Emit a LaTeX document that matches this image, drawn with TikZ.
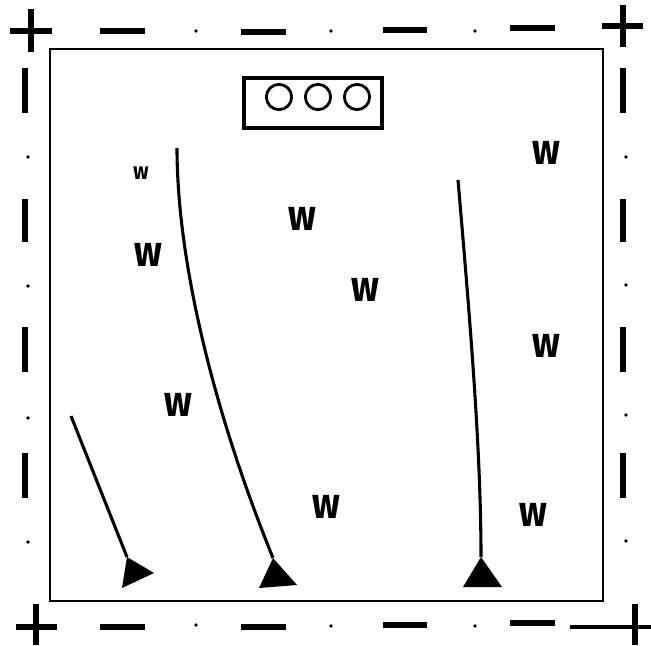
\documentclass[tikz,border=0pt]{standalone}
\usepackage{fontspec}
\usepackage{tikz}
\newfontfamily\wfont{Fira Sans}
\tikzset{
  markbar/.style={line width=3.6pt},
  dotmark/.style={fill=black},
  runline/.style={line width=2.2pt},
  wlabel/.style={inner sep=0pt,font=\wfont\bfseries\fontsize{31}{31}\selectfont,xscale=0.85},
  lightbox/.style={draw,line width=2.8pt,minimum width=98pt,minimum height=35.6pt,inner sep=0pt},
  lamp/.style={draw,circle,line width=2pt,minimum size=18pt,inner sep=0pt}
}

\begin{document}
\begin{tikzpicture}[x=0.025cm,y=-0.025cm]
\path[use as bounding box] (0,0) rectangle (651,645);
\fill[white] (0,0) rectangle (651,645);
% pitch
\draw[line width=2.1pt] (50,49) rectangle (603,601);
% corners
\draw[markbar] (10,31) -- (52,31) (31,9) -- (31,52);
\draw[markbar] (602,26) -- (643,26) (623,5) -- (623,47);
\draw[markbar] (16,627) -- (57,627) (36,604) -- (36,645);
\draw[markbar] (635,604) -- (635,645);
\draw[line width=3pt] (570,627) -- (651,627);
% top edge
\draw[markbar] (100,31) -- (145,31);
\draw[markbar] (241,32) -- (286,32);
\draw[markbar] (383,30) -- (427,30);
\draw[markbar] (510,28) -- (555,28);
% bottom edge
\draw[markbar] (100,627) -- (145,627);
\draw[markbar] (241,627) -- (286,627);
\draw[markbar] (383,625) -- (427,625);
\draw[markbar] (510,623) -- (555,623);
% left and right edges
\foreach \ya/\yb in {68/113,199/242,327/372,453/498}{
  \draw[markbar] (25,\ya) -- (25,\yb);
  \draw[markbar] (623,\ya) -- (623,\yb);
}
\foreach \px/\py in {196/31,331/31,475/31,196/625,331/626,475/626,
                    28/157,28/286,28/418,28/542,626/157,626/285,626/415,626/541}{
  \fill[dotmark] (\px,\py) circle[radius=1.8];
}
% lights
\node[lightbox] (light) at (313,103) {};
\node[lamp] (lamp1) at (279,97) {};
\node[lamp] (lamp2) at (318,97) {};
\node[lamp] (lamp3) at (357,97) {};
% runs
\coordinate (runa) at (71,416);
\coordinate (cone1) at (127,557);
\fill (cone1) -- (154,573) -- (122,588) -- cycle;
\draw[runline] (runa) -- (cone1);
\coordinate (runb) at (177,148);
\coordinate (cone2) at (273,558);
\fill (cone2) -- (297,585) -- (259,588) -- cycle;
\draw[runline] (runb) .. controls (177,260) and (213,410) .. (cone2);
\coordinate (runc) at (458,180);
\coordinate (cone3) at (481,557);
\fill (cone3) -- (502,587) -- (463,587) -- cycle;
\draw[runline] (runc) .. controls (470,320) and (481,450) .. (cone3);
% w
\node[wlabel,font=\wfont\bfseries\fontsize{17}{17}\selectfont] (w1) at (141,173) {w};
\node[wlabel] (w2) at (148,255) {w};
\node[wlabel] (w3) at (302,219) {w};
\node[wlabel] (w4) at (365,290) {w};
\node[wlabel] (w5) at (546,153) {w};
\node[wlabel] (w6) at (546,346) {w};
\node[wlabel] (w7) at (178,405) {w};
\node[wlabel] (w8) at (326,507) {w};
\node[wlabel] (w9) at (533,515) {w};
\end{tikzpicture}
\end{document}
